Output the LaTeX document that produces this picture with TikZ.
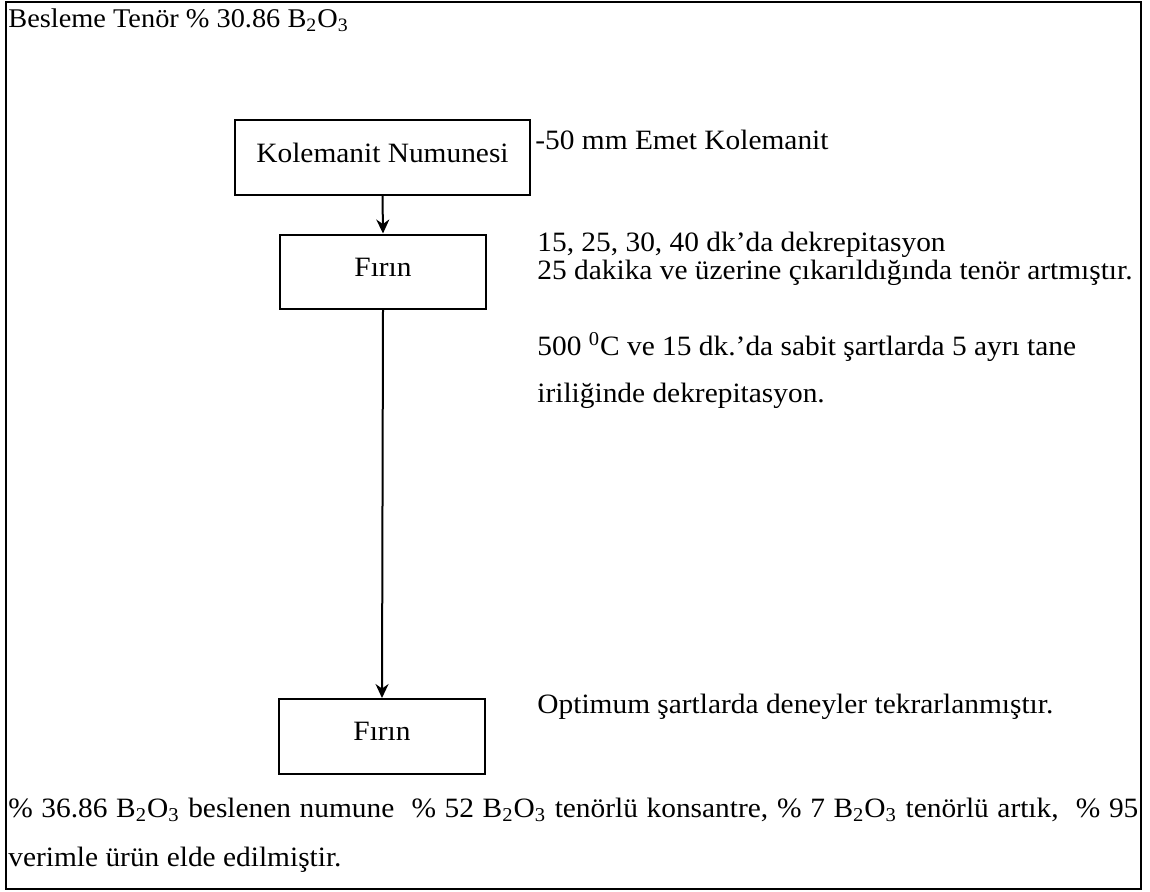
\documentclass[tikz,border=0pt]{standalone}
\usepackage{fontspec}
\setmainfont{Liberation Serif}[FakeStretch=1.05]
\usetikzlibrary{arrows.meta}
\begin{document}
\begin{tikzpicture}[x=0.5pt,y=-0.5pt,
  flowbox/.style={draw, line width=1pt, inner sep=0pt, font=\fontsize{14}{16}\selectfont},
  txt/.style={anchor=west, inner sep=0pt, font=\fontsize{14}{16}\selectfont},
  flow/.style={line width=1pt, -{Stealth[length=7pt,width=6.5pt]}}]
\useasboundingbox (0,0) rectangle (1150,891);
% outer frame
\draw[line width=1.3pt] (6,2) rectangle (1141,889);

% header
\node[txt, font=\fontsize{13.5}{16}\selectfont] (feed) at (8,20)
  {Besleme Tenör \% 30.86 B\textsubscript{2}O\textsubscript{3}};

% process boxes
\node[flowbox, minimum width=147.5pt, minimum height=37.5pt] (sample) at (382.5,157.5)
  {\raisebox{4.5pt}{Kolemanit Numunesi}};
\node[flowbox, minimum width=103pt, minimum height=37pt] (oven1) at (383,271.5)
  {\raisebox{4pt}{Fırın}};
\node[flowbox, minimum width=103pt, minimum height=37.5pt] (oven2) at (382,736.5)
  {\raisebox{5pt}{Fırın}};

% connectors
\draw[flow] (sample.south) -- (oven1.north);
\draw[flow] (oven1.south) -- (oven2.north);

% notes
\node[txt] (size) at (535,140) {-50 mm Emet Kolemanit};
\node[txt] (time1) at (537,245) {15, 25, 30, 40 dk’da dekrepitasyon};
\node[txt] (time2) at (537,273) {25 dakika ve üzerine çıkarıldığında tenör artmıştır.};
\node[txt] (temp1) at (537,347) {500 \textsuperscript{0}C ve 15 dk.’da sabit şartlarda 5 ayrı tane};
\node[txt] (temp2) at (537,396) {iriliğinde dekrepitasyon.};
\node[txt] (opt) at (537,707) {Optimum şartlarda deneyler tekrarlanmıştır.};

% result, first line spread to the full width
\node[txt] (res1) at (8,810) {\makebox[565pt][s]{\% 36.86 B\textsubscript{2}O\textsubscript{3} beslenen numune\ \ \% 52 B\textsubscript{2}O\textsubscript{3} tenörlü konsantre, \% 7 B\textsubscript{2}O\textsubscript{3} tenörlü artık,\ \ \% 95}};
\node[txt] (res2) at (8,860) {verimle ürün elde edilmiştir.};
\end{tikzpicture}
\end{document}
